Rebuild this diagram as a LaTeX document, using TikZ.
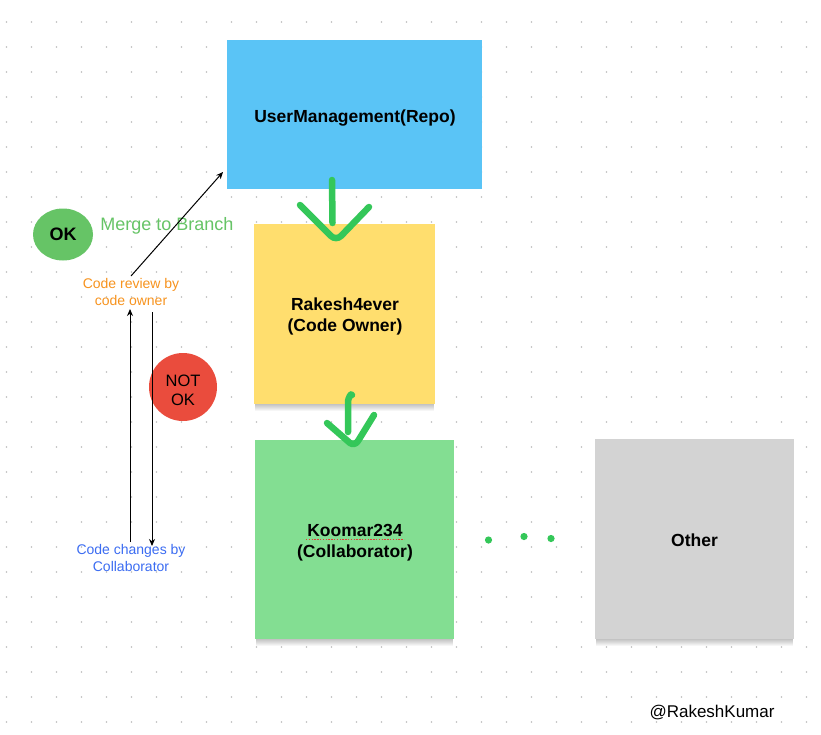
\documentclass[tikz,border=0pt]{standalone}
\usepackage{fontspec}
\setmainfont{Liberation Sans}
\usetikzlibrary{arrows.meta,calc,shapes.geometric}
\definecolor{dotc}{HTML}{BDBDBD}
\definecolor{repoblue}{HTML}{5AC4F6}
\definecolor{owneryellow}{HTML}{FFDE6E}
\definecolor{collabgreen}{HTML}{83DE92}
\definecolor{othergrey}{HTML}{D3D3D3}
\definecolor{okgreen}{HTML}{66C466}
\definecolor{notred}{HTML}{EA4C3D}
\definecolor{penGreen}{HTML}{34C759}
\definecolor{orangetxt}{HTML}{F7931E}
\definecolor{bluetxt}{HTML}{3B6CF2}
\definecolor{spellred}{HTML}{E53935}
\tikzset{
  sticky/.style={inner sep=0pt, align=center, font=\fontsize{17.5}{21}\selectfont\bfseries},
  pen/.style={draw=penGreen, line width=6.5pt, line cap=round, line join=round},
  thinarrow/.style={draw=black, line width=1pt, -{Stealth[length=7pt,width=6pt]}},
  note/.style={align=center, inner sep=1pt, font=\fontsize{14}{17}\selectfont},
  shadowstep/.style={fill=black, fill opacity=0.035},
}
\newcommand{\papershadow}[1]{%
  \foreach \k in {1,...,7}{
    \fill[shadowstep] ($(#1.south west)+(1.5,0)$) rectangle ($(#1.south east)+(-1.5,\k)$);
  }
}
\begin{document}
\begin{tikzpicture}[x=1pt,y=-1pt]
\useasboundingbox[fill=white] (0,0) rectangle (821,734);
% dot grid
\foreach \i in {0,...,32}{
  \foreach \j in {0,...,28}{
    \fill[dotc] ({6.5+25*\i},{22+25*\j}) circle (0.9);
  }
}
% boxes
\node[sticky, fill=repoblue, minimum width=255pt, minimum height=149pt] (repo) at (354.5,114.5) {};
\node[sticky] (repotxt) at (355,118) {UserManagement(Repo)};
\node[sticky, fill=owneryellow, minimum width=181pt, minimum height=180pt] (owner) at (344.5,314) {};
\papershadow{owner}
\node[sticky] (ownertxt) at (345,316) {Rakesh4ever\\(Code Owner)};
\node[sticky, fill=collabgreen, minimum width=199pt, minimum height=199pt] (collab) at (354.5,539.5) {};
\papershadow{collab}
\node[sticky] (collabtxt) at (355,543) {Koomar234\\(Collaborator)};
\draw[spellred, line width=1.1pt, dash pattern=on 1.4pt off 1.4pt] (306,539.5) -- (404,539.5);
\node[sticky, fill=othergrey, minimum width=199pt, minimum height=200pt] (other) at (694.5,539) {};
\papershadow{other}
\node[sticky] (othertxt) at (694.5,540.5) {Other};
% OK / NOT OK
\node[ellipse, fill=okgreen, minimum width=60pt, minimum height=52pt, inner sep=0pt, font=\fontsize{18}{20}\selectfont\bfseries] (ok) at (63,234.5) {OK};
\node[circle, fill=notred, minimum size=68pt, inner sep=0pt] (notok) at (183,387) {};
\node[align=center, inner sep=0pt, font=\fontsize{16.5}{19}\selectfont] (notoktxt) at (183,390) {NOT\\OK};
% notes
\node[font=\fontsize{18}{20}\selectfont, text=okgreen, inner sep=0pt] (merge) at (167,225.5) {Merge to Branch};
\node[note, text=orangetxt] (review) at (131,291.5) {Code review by\\code owner};
\node[note, text=bluetxt] (changes) at (131,558) {Code changes by\\Collaborator};
\node[font=\fontsize{17}{20}\selectfont, inner sep=0pt] (sig) at (712,713) {@RakeshKumar};
% connectors
\coordinate (reviewtop) at (131,276);
\coordinate (repoin) at (223,172);
\draw[thinarrow] (reviewtop) -- (repoin);
\coordinate (upbot) at (130,542);
\coordinate (uptop) at (130,309);
\draw[thinarrow] (upbot) -- (uptop);
\coordinate (downtop) at (152,312);
\coordinate (downbot) at (152,546);
\draw[thinarrow] (downtop) -- (downbot);
% hand-drawn green arrows
\draw[pen] (332,180) -- (332.5,223);
\draw[pen] (300,205) -- (331,236) to[out=-45,in=-135] (341,236) -- (369,207);
\draw[pen] (352,395) to[out=110,in=80] (348,401) -- (348,432);
\draw[pen] (327,423) -- (350,443) to[out=-40,in=-120] (358,441) -- (374,415);
% dots
\fill[penGreen] (488.5,540) circle (3.6);
\fill[penGreen] (524,536.5) circle (3.6);
\fill[penGreen] (551,538.5) circle (3.6);
\end{tikzpicture}
\end{document}
